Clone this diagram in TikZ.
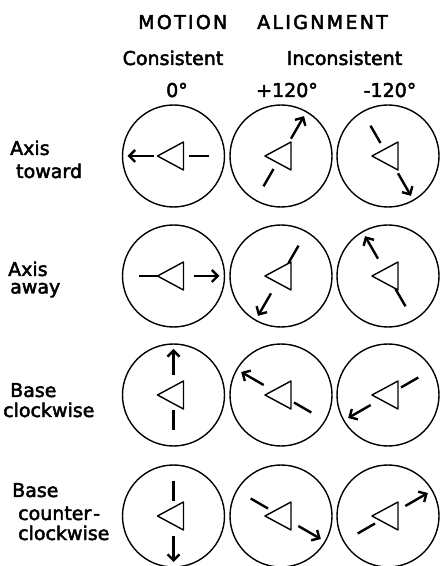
\documentclass[tikz,border=0pt]{standalone}
\usepackage{fontspec}
\newfontfamily\lett[FakeBold=2.5]{DejaVu Sans}
\usetikzlibrary{arrows.meta,calc}
\tikzset{
  ring/.style={circle,draw,line width=1.4pt,minimum size=102pt,inner sep=0pt},
  tri/.style={line width=1.4pt,line join=round},
  mv/.style={line width=2.4pt,-{Straight Barb[length=6pt,width=12pt]}},
  tl/.style={line width=2.4pt},
  lbl/.style={font=\lett\fontsize{19}{22}\selectfont,inner sep=0pt,anchor=base west},
  hdr/.style={font=\lett\fontsize{19}{22}\selectfont\addfontfeature{LetterSpace=12},inner sep=0pt,anchor=base west},
  colh/.style={font=\lett\fontsize{19}{22}\selectfont,inner sep=0pt,anchor=base},
}
\newcommand\cellpic[4]{%
  \node[ring] (#1) at (#2,#3) {};
  \draw[tri] ($(#1)+(-16,0)$) -- ($(#1)+(10,14)$) -- ($(#1)+(10,-14)$) -- cycle;
  \draw[mv] ($(#1)+({#4}:20)$) -- ($(#1)+({#4}:46)$);
  \draw[tl] ($(#1)+({#4+180}:15)$) -- ($(#1)+({#4+180}:35)$);
}
\begin{document}
\begin{tikzpicture}[x=1pt,y=1pt]
\useasboundingbox (0,0) rectangle (440,566);
% headers
\node[hdr] (hm) at (138,537) {MOTION};
\node[hdr] (ha) at (257,537) {ALIGNMENT};
\node[colh] (hc) at (173,501) {Consistent};
\node[colh] (hi) at (344.5,501) {Inconsistent};
\node[colh] (h0) at (177,469) {0°};
\node[colh] (hp) at (287,469) {+120°};
\node[colh] (hn) at (390,469) {-120°};
% row labels
\node[lbl] (l1a) at (10,411) {Axis};
\node[lbl] (l1b) at (16,388) {toward};
\node[lbl] (l2a) at (8,290) {Axis};
\node[lbl] (l2b) at (10,272.5) {away};
\node[lbl] (l3a) at (10,169) {Base};
\node[lbl] (l3b) at (3,149) {clockwise};
\node[lbl] (l4a) at (12,69) {Base};
\node[lbl] (l4b) at (18,46) {counter\kern2pt-};
\node[lbl] (l4c) at (18,26) {clockwise};
% cells
\cellpic{c11}{173.5}{410}{180}
\cellpic{c12}{281}{410}{60}
\cellpic{c13}{388}{410}{300}
\cellpic{c21}{173.5}{290}{0}
\cellpic{c22}{281}{290}{240}
\cellpic{c23}{388}{290}{120}
\cellpic{c31}{173.5}{171}{90}
\cellpic{c32}{281}{171}{150}
\cellpic{c33}{388}{171}{210}
\cellpic{c41}{173.5}{50}{270}
\cellpic{c42}{281}{50}{330}
\cellpic{c43}{388}{50}{30}
\end{tikzpicture}
\end{document}
